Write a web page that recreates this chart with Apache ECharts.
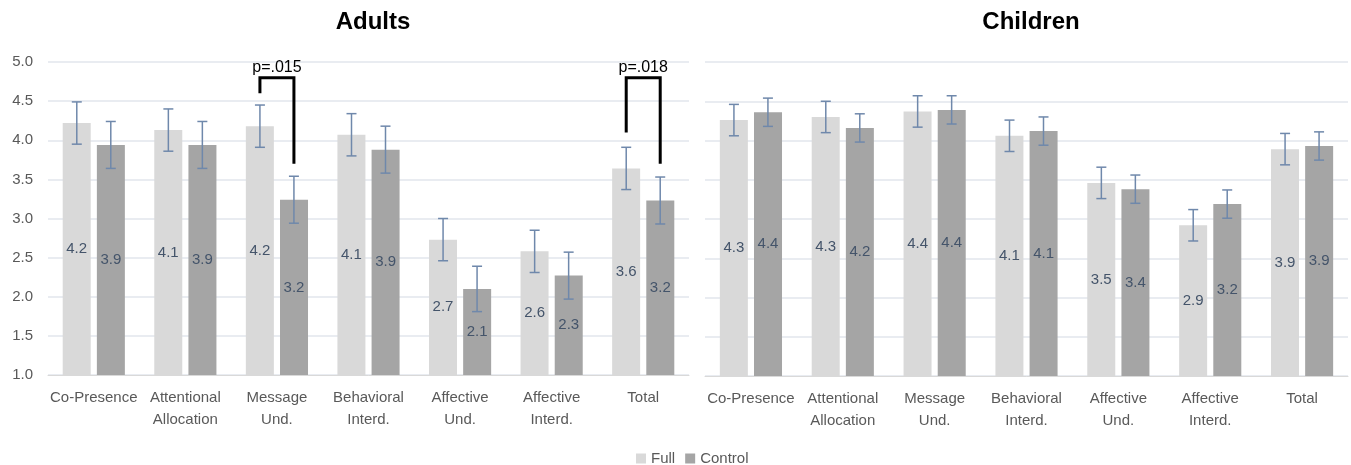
<!DOCTYPE html>
<html>
<head>
<meta charset="utf-8">
<script src="https://cdn.jsdelivr.net/npm/echarts@6/dist/echarts.min.js"></script>
<style>
  html, body { margin: 0; padding: 0; background: #fff; }
  #main { width: 1351px; height: 465px; }
</style>
</head>
<body>
<div id="main"></div>
<script>
// categories (same for both panels)
const categories = ['Co-Presence', 'Attentional\nAllocation', 'Message\nUnd.', 'Behavioral\nInterd.', 'Affective\nUnd.', 'Affective\nInterd.', 'Total'];
const yTicks = [1.0, 1.5, 2.0, 2.5, 3.0, 3.5, 4.0, 4.5, 5.0];

// Adults
const adultFull = [4.22, 4.13, 4.18, 4.07, 2.73, 2.58, 3.64];
const adultFullErr = [0.27, 0.27, 0.27, 0.27, 0.27, 0.27, 0.27];
const adultControl = [3.94, 3.94, 3.24, 3.88, 2.10, 2.27, 3.23];
const adultControlErr = [0.30, 0.30, 0.30, 0.30, 0.29, 0.30, 0.30];

// Children
const childFull = [4.26, 4.30, 4.37, 4.06, 3.46, 2.92, 3.89];
const childFullErr = [0.20, 0.20, 0.20, 0.20, 0.20, 0.20, 0.20];
const childControl = [4.36, 4.16, 4.39, 4.12, 3.38, 3.19, 3.93];
const childControlErr = [0.18, 0.18, 0.18, 0.18, 0.18, 0.18, 0.18];

// significance brackets on the Adults panel
const bracketCats = [2, 6];
const bracketFullLow = [4.60, 4.10];
const bracketControlLow = [3.70, 3.70];
const bracketTop = [4.80, 4.80];
const bracketLabels = ['p=.015', 'p=.018'];

const FONT = 'Liberation Sans';
const BAR_W = 28;
const BAR_OFF = 17; // half of (bar width + gap)

let chart = echarts.init(document.getElementById('main'));

// error bars drawn as custom series
function errSeries(axisIdx, vals, errs, sign) {
    return {
        type: 'custom',
        xAxisIndex: axisIdx,
        yAxisIndex: axisIdx,
        silent: true,
        z: 5,
        data: vals.map((v, i) => [i, v - errs[i], v + errs[i]]),
        renderItem: function (params, api) {
            let lo = api.coord([api.value(0), api.value(1)]);
            let hi = api.coord([api.value(0), api.value(2)]);
            let x = lo[0] + sign * BAR_OFF;
            let st = { stroke: '#6F88AB', lineWidth: 1.5 };
            return {
                type: 'group',
                children: [
                    { type: 'line', shape: { x1: x, y1: lo[1], x2: x, y2: hi[1] }, style: st },
                    { type: 'line', shape: { x1: x - 5, y1: lo[1], x2: x + 5, y2: lo[1] }, style: st },
                    { type: 'line', shape: { x1: x - 5, y1: hi[1], x2: x + 5, y2: hi[1] }, style: st }
                ]
            };
        }
    };
}

function barSeries(name, axisIdx, vals, color) {
    return {
        name: name,
        type: 'bar',
        xAxisIndex: axisIdx,
        yAxisIndex: axisIdx,
        barWidth: BAR_W,
        barGap: '22%',
        itemStyle: { color: color },
        label: {
            show: true,
            position: 'inside',
            color: '#44546A',
            fontFamily: FONT,
            fontSize: 15,
            formatter: p => p.value.toFixed(1)
        },
        data: vals
    };
}

const xAxisBase = {
    type: 'category',
    data: categories,
    axisTick: { show: false },
    axisLine: { lineStyle: { color: '#D9D9D9' } },
    axisLabel: {
        interval: 0,
        color: '#595959',
        fontFamily: FONT,
        fontSize: 15,
        lineHeight: 22,
        margin: 12
    }
};

const yAxisBase = {
    type: 'value',
    min: 1,
    max: 5,
    interval: 0.5,
    axisLine: { show: false },
    axisTick: { show: false },
    splitLine: { lineStyle: { color: '#E2E6EC', width: 1.5 } },
    axisLabel: {
        color: '#595959',
        fontFamily: FONT,
        fontSize: 15,
        margin: 15,
        formatter: v => v.toFixed(1)
    }
};

let option = {
    backgroundColor: '#fff',
    animation: false,
    title: [
        { text: 'Adults', left: 368, top: 5, textAlign: 'center',
          textStyle: { fontFamily: FONT, fontSize: 24, fontWeight: 'bold', color: '#000' } },
        { text: 'Children', left: 1026, top: 5, textAlign: 'center',
          textStyle: { fontFamily: FONT, fontSize: 24, fontWeight: 'bold', color: '#000' } }
    ],
    legend: {
        data: ['Full', 'Control'],
        left: 631,
        top: 446,
        icon: 'rect',
        itemWidth: 10,
        itemHeight: 10,
        itemGap: 10,
        textStyle: { color: '#595959', fontFamily: FONT, fontSize: 15 }
    },
    grid: [
        { left: 48, right: 662, top: 62, height: 313 },
        { left: 705, right: 3, top: 62, height: 314 }
    ],
    xAxis: [
        Object.assign({ gridIndex: 0 }, xAxisBase),
        Object.assign({ gridIndex: 1 }, xAxisBase)
    ],
    yAxis: [
        Object.assign({ gridIndex: 0 }, yAxisBase),
        Object.assign({}, yAxisBase, { gridIndex: 1, axisLabel: { show: false } })
    ],
    series: [
        barSeries('Full', 0, adultFull, '#D9D9D9'),
        barSeries('Control', 0, adultControl, '#A5A5A5'),
        barSeries('Full', 1, childFull, '#D9D9D9'),
        barSeries('Control', 1, childControl, '#A5A5A5'),
        errSeries(0, adultFull, adultFullErr, -1),
        errSeries(0, adultControl, adultControlErr, 1),
        errSeries(1, childFull, childFullErr, -1),
        errSeries(1, childControl, childControlErr, 1),
        {
            // p-value brackets
            type: 'custom',
            xAxisIndex: 0,
            yAxisIndex: 0,
            silent: true,
            z: 6,
            data: bracketCats.map((c, i) => [c, bracketFullLow[i], bracketControlLow[i], bracketTop[i]]),
            renderItem: function (params, api) {
                let c = api.value(0);
                let a = api.coord([c, api.value(1)]);
                let b = api.coord([c, api.value(2)]);
                let t = api.coord([c, api.value(3)]);
                let xl = a[0] - BAR_OFF, xr = a[0] + BAR_OFF;
                return {
                    type: 'group',
                    children: [
                        { type: 'polyline',
                          shape: { points: [[xl, a[1]], [xl, t[1]], [xr, t[1]], [xr, b[1]]] },
                          style: { stroke: '#000', lineWidth: 3, fill: null } },
                        { type: 'text',
                          style: { text: bracketLabels[params.dataIndex], x: a[0], y: t[1] - 2,
                                   align: 'center', verticalAlign: 'bottom',
                                   fill: '#000', font: '16px ' + FONT } }
                    ]
                };
            }
        }
    ]
};

chart.setOption(option);
</script>
</body>
</html>
